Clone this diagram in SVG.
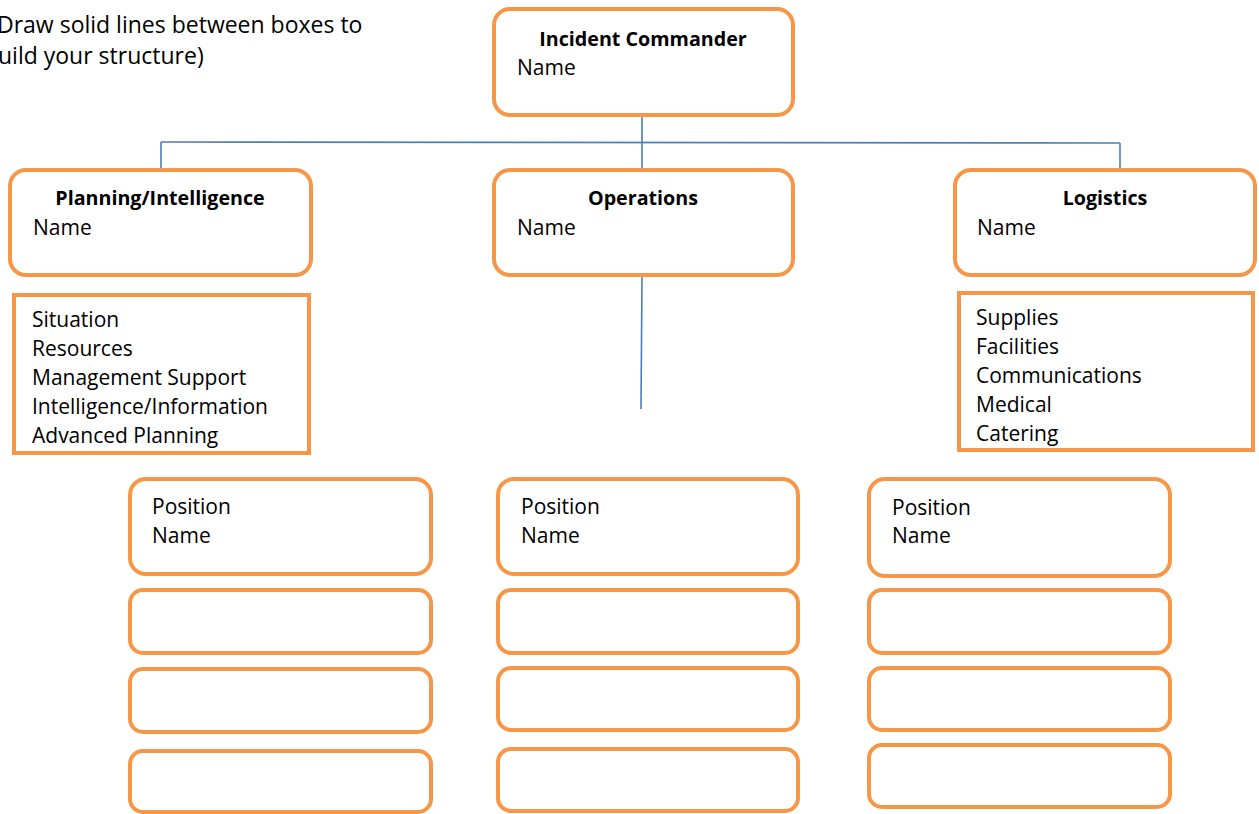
<svg xmlns="http://www.w3.org/2000/svg" width="1259" height="814" viewBox="0 0 1259 814">
<style>
text{font-family:"Open Sans","Liberation Sans",sans-serif;font-size:21px;fill:#000}
.b{font-weight:bold;text-anchor:middle;font-size:19.7px}
.note{font-size:23px}
.box{fill:#fff;stroke:#F79646;stroke-width:4}
.con{stroke:#4A7EBB;stroke-width:1.6;fill:none}
</style>
<rect width="1259" height="814" fill="#fff"/>
<g id="note">
<text class="note" x="-3" y="33">Draw solid lines between boxes to</text>
<text class="note" x="-2" y="64">uild your structure)</text>
</g>
<g id="connectors">
<line class="con" x1="642" y1="115" x2="642" y2="170"/>
<line class="con" x1="161" y1="142" x2="1120" y2="143"/>
<line class="con" x1="161" y1="142" x2="161" y2="170"/>
<line class="con" x1="1120" y1="143" x2="1120" y2="169"/>
<line class="con" x1="642" y1="275" x2="641" y2="409"/>
</g>
<g id="incident-commander">
<rect class="box" x="494" y="9" width="299" height="106" rx="16"/>
<text class="b" x="643" y="46">Incident Commander</text>
<text x="517" y="75">Name</text>
</g>
<g id="planning">
<rect class="box" x="10" y="170" width="301" height="105" rx="16"/>
<text class="b" x="160" y="205">Planning/Intelligence</text>
<text x="33" y="235">Name</text>
</g>
<g id="operations">
<rect class="box" x="494" y="170" width="299" height="105" rx="16"/>
<text class="b" x="643" y="205">Operations</text>
<text x="517" y="235">Name</text>
</g>
<g id="logistics">
<rect class="box" x="955" y="170" width="300" height="105" rx="16"/>
<text class="b" x="1105" y="205">Logistics</text>
<text x="977" y="235">Name</text>
</g>
<g id="planning-list">
<rect class="box" x="14" y="295" width="295" height="158"/>
<text x="32" y="327">Situation</text>
<text x="32" y="356">Resources</text>
<text x="32" y="385">Management Support</text>
<text x="32" y="414">Intelligence/Information</text>
<text x="32" y="443">Advanced Planning</text>
</g>
<g id="logistics-list">
<rect class="box" x="959" y="293" width="294" height="157"/>
<text x="976" y="325">Supplies</text>
<text x="976" y="354">Facilities</text>
<text x="976" y="383">Communications</text>
<text x="976" y="412">Medical</text>
<text x="976" y="441">Catering</text>
</g>
<g id="pos-1-1">
<rect class="box" x="130" y="479" width="301" height="95" rx="16"/>
<text x="152" y="514">Position</text>
<text x="152" y="543">Name</text>
</g>
<g id="pos-1-2"><rect class="box" x="130" y="590" width="301" height="63" rx="13"/></g>
<g id="pos-1-3"><rect class="box" x="130" y="669" width="301" height="63" rx="13"/></g>
<g id="pos-1-4"><rect class="box" x="130" y="751" width="301" height="61" rx="13"/></g>
<g id="pos-2-1">
<rect class="box" x="498" y="479" width="300" height="95" rx="16"/>
<text x="521" y="514">Position</text>
<text x="521" y="543">Name</text>
</g>
<g id="pos-2-2"><rect class="box" x="498" y="590" width="300" height="63" rx="13"/></g>
<g id="pos-2-3"><rect class="box" x="498" y="668" width="300" height="62" rx="13"/></g>
<g id="pos-2-4"><rect class="box" x="498" y="749" width="300" height="62" rx="13"/></g>
<g id="pos-3-1">
<rect class="box" x="869" y="479" width="301" height="97" rx="16"/>
<text x="892" y="515">Position</text>
<text x="892" y="543">Name</text>
</g>
<g id="pos-3-2"><rect class="box" x="869" y="590" width="301" height="63" rx="13"/></g>
<g id="pos-3-3"><rect class="box" x="869" y="668" width="301" height="62" rx="13"/></g>
<g id="pos-3-4"><rect class="box" x="869" y="745" width="301" height="62" rx="13"/></g>
</svg>
